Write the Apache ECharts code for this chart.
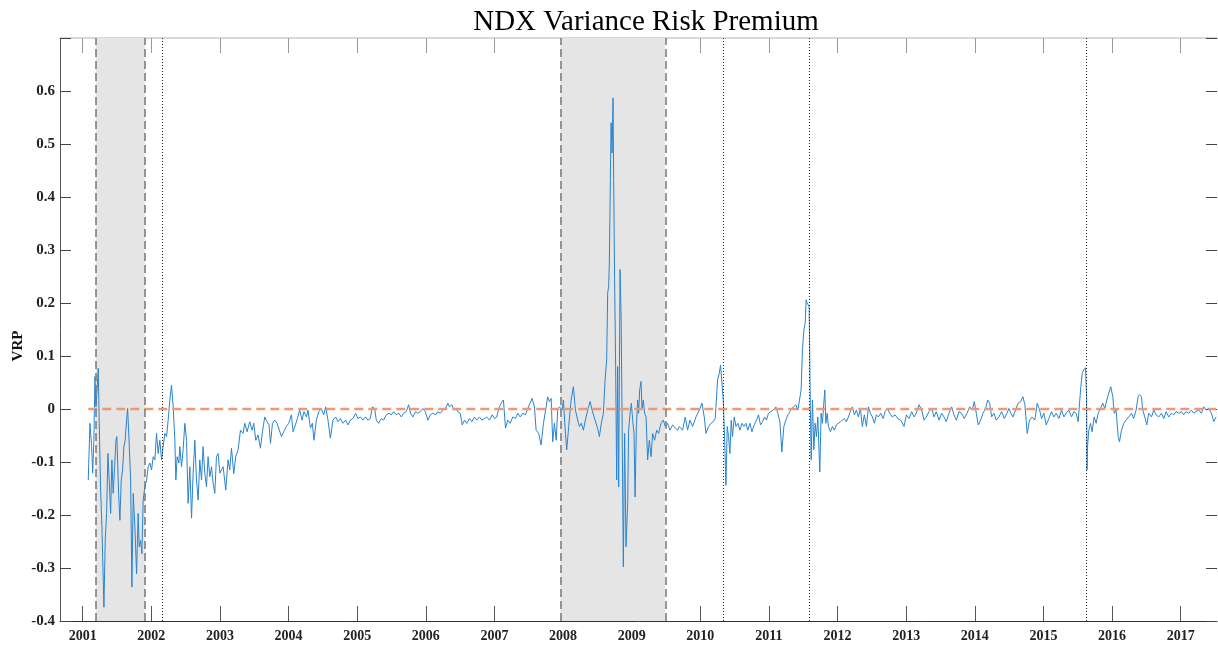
<!DOCTYPE html>
<html>
<head>
<meta charset="utf-8">
<title>NDX Variance Risk Premium</title>
<script src="https://cdn.jsdelivr.net/npm/echarts@6/dist/echarts.min.js"></script>
<style>
  html, body { margin: 0; padding: 0; background: #fff; }
  #chart { width: 1218px; height: 651px; }
</style>
</head>
<body>
<div id="chart"></div>
<script>
// VRP series (decimal year, value)
const vrpDates = [
  2001.082, 2001.106, 2001.131, 2001.146, 2001.164, 2001.179, 2001.194, 2001.213, 2001.227, 2001.242,
  2001.262, 2001.281, 2001.310, 2001.329, 2001.349, 2001.368, 2001.387, 2001.408, 2001.426, 2001.445,
  2001.466, 2001.485, 2001.499, 2001.524, 2001.543, 2001.562, 2001.582, 2001.601, 2001.620, 2001.640,
  2001.655, 2001.674, 2001.699, 2001.718, 2001.737, 2001.761, 2001.786, 2001.809, 2001.824, 2001.844,
  2001.863, 2001.882, 2001.907, 2001.932, 2001.955, 2001.980, 2002.004, 2002.028, 2002.052, 2002.077,
  2002.100, 2002.125, 2002.150, 2002.173, 2002.198, 2002.223, 2002.246, 2002.271, 2002.295, 2002.319,
  2002.344, 2002.358, 2002.377, 2002.402, 2002.416, 2002.441, 2002.464, 2002.489, 2002.514, 2002.537,
  2002.562, 2002.587, 2002.610, 2002.635, 2002.659, 2002.683, 2002.707, 2002.732, 2002.755, 2002.780,
  2002.805, 2002.828, 2002.853, 2002.878, 2002.901, 2002.926, 2002.950, 2002.974, 2002.999,
  2003.047, 2003.086, 2003.119, 2003.144, 2003.169, 2003.202, 2003.231, 2003.265, 2003.300, 2003.338,
  2003.362, 2003.396, 2003.435, 2003.469, 2003.493, 2003.523, 2003.556, 2003.591, 2003.620, 2003.654,
  2003.687, 2003.716, 2003.737, 2003.766, 2003.799, 2003.833, 2003.862, 2003.897, 2003.930, 2003.969,
  2004.003, 2004.042, 2004.066, 2004.100, 2004.130, 2004.163, 2004.197, 2004.226, 2004.261, 2004.284,
  2004.319, 2004.348, 2004.371, 2004.406, 2004.440, 2004.479, 2004.512, 2004.541, 2004.575, 2004.610,
  2004.648, 2004.687, 2004.721, 2004.755, 2004.793, 2004.833, 2004.866, 2004.901, 2004.939, 2004.978,
  2005.012, 2005.047, 2005.084, 2005.124, 2005.157, 2005.192, 2005.221, 2005.255, 2005.279, 2005.313,
  2005.352, 2005.386, 2005.425, 2005.463, 2005.498, 2005.531, 2005.571, 2005.608, 2005.643, 2005.677,
  2005.716, 2005.750, 2005.779, 2005.812, 2005.852, 2005.885, 2005.920, 2005.958, 2005.993,
  2006.031, 2006.066, 2006.103, 2006.143, 2006.176, 2006.211, 2006.249, 2006.288, 2006.322, 2006.346,
  2006.380, 2006.409, 2006.444, 2006.467, 2006.502, 2006.531, 2006.565, 2006.598, 2006.638, 2006.671,
  2006.710, 2006.744, 2006.783, 2006.817, 2006.856, 2006.889, 2006.929, 2006.968,
  2007.001, 2007.035, 2007.064, 2007.099, 2007.132, 2007.162, 2007.195, 2007.230, 2007.268, 2007.307,
  2007.341, 2007.376, 2007.413, 2007.453, 2007.486, 2007.521, 2007.550, 2007.584, 2007.608, 2007.646,
  2007.681, 2007.715, 2007.754, 2007.777, 2007.802, 2007.827, 2007.850, 2007.875, 2007.900, 2007.923,
  2007.948, 2007.987,
  2008.006, 2008.035, 2008.054, 2008.083, 2008.118, 2008.151, 2008.181, 2008.214, 2008.239, 2008.268,
  2008.297, 2008.326, 2008.360, 2008.394, 2008.424, 2008.453, 2008.482, 2008.511, 2008.530, 2008.559,
  2008.588, 2008.613, 2008.636, 2008.651, 2008.665, 2008.675, 2008.690, 2008.700, 2008.715, 2008.729,
  2008.738, 2008.752, 2008.767, 2008.782, 2008.796, 2008.811, 2008.831, 2008.846, 2008.860, 2008.879,
  2008.898, 2008.918, 2008.942, 2008.956, 2008.977, 2008.996,
  2009.015, 2009.035, 2009.050, 2009.069, 2009.088, 2009.102, 2009.117, 2009.137, 2009.151, 2009.170,
  2009.189, 2009.210, 2009.233, 2009.258, 2009.283, 2009.306, 2009.335, 2009.364, 2009.393, 2009.428,
  2009.461, 2009.491, 2009.524, 2009.559, 2009.597, 2009.636, 2009.670, 2009.695, 2009.742, 2009.782,
  2009.815, 2009.850, 2009.888, 2009.937, 2009.986,
  2010.025, 2010.058, 2010.083, 2010.121, 2010.156, 2010.189, 2010.218, 2010.252, 2010.277, 2010.296,
  2010.316, 2010.335, 2010.354, 2010.374, 2010.393, 2010.412, 2010.432, 2010.451, 2010.470, 2010.495,
  2010.520, 2010.549, 2010.578, 2010.607, 2010.636, 2010.665, 2010.694, 2010.723, 2010.753, 2010.786,
  2010.820, 2010.849, 2010.878, 2010.907, 2010.936, 2010.965, 2010.994,
  2011.029, 2011.063, 2011.102, 2011.131, 2011.160, 2011.189, 2011.218, 2011.247, 2011.277, 2011.306,
  2011.335, 2011.364, 2011.393, 2011.422, 2011.451, 2011.470, 2011.489, 2011.510, 2011.529, 2011.543,
  2011.558, 2011.572, 2011.587, 2011.601, 2011.616, 2011.635, 2011.655, 2011.674, 2011.693, 2011.713,
  2011.742, 2011.761, 2011.780, 2011.800, 2011.815, 2011.830, 2011.849, 2011.868, 2011.897, 2011.926,
  2011.955, 2011.984,
  2012.013, 2012.042, 2012.071, 2012.100, 2012.130, 2012.159, 2012.194, 2012.217, 2012.246, 2012.275,
  2012.304, 2012.333, 2012.362, 2012.391, 2012.421, 2012.450, 2012.479, 2012.508, 2012.537, 2012.566,
  2012.595, 2012.630, 2012.664, 2012.693, 2012.726, 2012.761, 2012.799, 2012.838, 2012.878, 2012.921,
  2012.969,
  2013.003, 2013.042, 2013.081, 2013.115, 2013.148, 2013.188, 2013.227, 2013.261, 2013.294, 2013.333,
  2013.373, 2013.406, 2013.440, 2013.479, 2013.518, 2013.552, 2013.585, 2013.625, 2013.664, 2013.697,
  2013.731, 2013.770, 2013.809, 2013.847, 2013.887, 2013.926, 2013.964, 2013.993,
  2014.022, 2014.051, 2014.086, 2014.119, 2014.159, 2014.188, 2014.217, 2014.246, 2014.280, 2014.313,
  2014.352, 2014.392, 2014.430, 2014.469, 2014.498, 2014.527, 2014.556, 2014.595, 2014.633, 2014.668,
  2014.702, 2014.731, 2014.764, 2014.799, 2014.837, 2014.876, 2014.910, 2014.945, 2014.974,
  2015.007, 2015.041, 2015.080, 2015.119, 2015.153, 2015.186, 2015.226, 2015.265, 2015.299, 2015.332,
  2015.371, 2015.410, 2015.444, 2015.478, 2015.507, 2015.527, 2015.546, 2015.565, 2015.590, 2015.614,
  2015.630, 2015.636, 2015.643, 2015.662, 2015.687, 2015.710, 2015.740, 2015.769, 2015.798, 2015.833,
  2015.866, 2015.895, 2015.924, 2015.953, 2015.982,
  2016.012, 2016.031, 2016.060, 2016.089, 2016.109, 2016.138, 2016.172, 2016.205, 2016.244, 2016.284,
  2016.317, 2016.351, 2016.380, 2016.400, 2016.429, 2016.448, 2016.478, 2016.507, 2016.536, 2016.575,
  2016.609, 2016.642, 2016.681, 2016.721, 2016.754, 2016.788, 2016.827, 2016.866, 2016.900, 2016.933,
  2016.972,
  2017.012, 2017.045, 2017.079, 2017.118, 2017.157, 2017.191, 2017.224, 2017.264, 2017.303, 2017.337,
  2017.370, 2017.409, 2017.449, 2017.482, 2017.516
]

const vrpValues = [
  -0.134, -0.027, -0.071, -0.121, -0.059, 0.061, 0.004, 0.042, 0.077, -0.027,
  -0.153, -0.222, -0.374, -0.248, -0.197, -0.084, -0.134, -0.197, -0.096, -0.159,
  -0.109, -0.059, -0.052, -0.159, -0.210, -0.134, -0.115, -0.071, -0.059, -0.021,
  0.001, -0.052, -0.134, -0.336, -0.159, -0.222, -0.311, -0.197, -0.260, -0.248,
  -0.273, -0.172, -0.147, -0.134, -0.109, -0.102, -0.115, -0.090, -0.096, -0.046,
  -0.084, -0.059, -0.096, -0.071, -0.046, -0.052, -0.021, 0.017, 0.045, 0.004,
  -0.059, -0.134, -0.090, -0.102, -0.071, -0.109, -0.077, -0.027, -0.059, -0.178,
  -0.109, -0.206, -0.121, -0.059, -0.134, -0.172, -0.096, -0.134, -0.071, -0.121,
  -0.147, -0.090, -0.128, -0.109, -0.140, -0.159, -0.090, -0.084, -0.121,
  -0.109, -0.153, -0.096, -0.115, -0.074, -0.122, -0.090, -0.077, -0.040, -0.046,
  -0.027, -0.043, -0.024, -0.040, -0.027, -0.059, -0.049, -0.074, -0.043, -0.015,
  -0.024, -0.030, -0.065, -0.027, -0.021, -0.027, -0.024, -0.052, -0.043, -0.033,
  -0.027, -0.011, -0.043, -0.030, -0.018, -0.002, -0.021, -0.005, -0.015, -0.002,
  -0.036, -0.027, -0.059, -0.021, -0.005, 0.001, -0.011, 0.004, -0.021, -0.055,
  -0.021, -0.015, -0.024, -0.018, -0.027, -0.021, -0.030, -0.021, -0.018, -0.008,
  -0.018, -0.015, -0.021, -0.015, -0.021, -0.018, 0.004, 0.001, -0.021, -0.027,
  -0.018, -0.021, -0.011, -0.008, -0.011, -0.005, -0.011, -0.008, -0.015, -0.008,
  -0.005, 0.008, -0.008, -0.015, -0.005, -0.008, -0.005, 0.001, -0.005,
  -0.021, -0.011, -0.008, -0.011, -0.005, -0.008, -0.002, 0.001, 0.011, 0.004,
  0.008, -0.002, 0.001, -0.005, -0.008, -0.030, -0.021, -0.027, -0.018, -0.024,
  -0.015, -0.021, -0.015, -0.021, -0.018, -0.015, -0.021, -0.011,
  -0.018, -0.015, 0.001, 0.011, 0.017, -0.036, -0.021, -0.027, -0.015, -0.018,
  -0.008, -0.015, -0.008, -0.011, 0.001, 0.011, 0.020, 0.004, -0.040, -0.046,
  -0.068, -0.027, 0.004, 0.023, 0.014, 0.020, -0.062, -0.027, -0.059, -0.002,
  0.004, -0.002,
  0.017, -0.046, -0.077, -0.033, 0.017, 0.042, -0.002, -0.021, -0.033, -0.027,
  -0.040, -0.021, -0.002, 0.014, -0.002, -0.015, -0.027, -0.040, -0.052, -0.027,
  -0.008, 0.055, 0.093, 0.219, 0.231, 0.275, 0.433, 0.540, 0.483, 0.587,
  0.433, 0.244, 0.080, -0.134, 0.080, -0.147, 0.263, 0.181, -0.008, -0.298,
  -0.046, -0.260, -0.178, -0.040, -0.008, 0.011,
  -0.021, -0.046, -0.166, -0.033, 0.017, -0.008, 0.036, 0.052, -0.002, 0.017,
  -0.008, -0.015, -0.096, -0.059, -0.090, -0.046, -0.059, -0.040, -0.046, -0.027,
  -0.021, -0.033, -0.027, -0.040, -0.030, -0.036, -0.040, -0.033, -0.040, -0.015,
  -0.040, -0.021, -0.033, -0.015, -0.002,
  0.011, -0.015, -0.046, -0.033, -0.027, -0.024, -0.018, 0.055, 0.067, 0.083,
  0.080, 0.017, -0.052, -0.144, -0.033, -0.052, -0.084, -0.021, -0.052, -0.015,
  -0.033, -0.027, -0.040, -0.027, -0.033, -0.027, -0.040, -0.027, -0.043, -0.030,
  -0.021, -0.011, -0.030, -0.024, -0.015, -0.021, -0.008,
  -0.005, -0.002, 0.004, -0.008, -0.024, -0.081, -0.033, -0.021, -0.011, -0.005,
  0.001, 0.004, 0.008, -0.002, -0.002, 0.036, 0.112, 0.149, 0.162, 0.206,
  0.200, 0.203, 0.193, 0.036, -0.096, 0.017, -0.077, -0.027, -0.052, -0.015,
  -0.119, -0.008, -0.027, 0.011, 0.036, -0.027, -0.008, -0.033, -0.043, -0.033,
  -0.040, -0.030,
  -0.033, -0.024, -0.027, -0.018, -0.024, -0.015, -0.002, 0.004, -0.011, -0.002,
  -0.015, 0.001, -0.033, -0.011, -0.033, 0.004, -0.008, -0.015, -0.027, -0.011,
  -0.015, -0.008, -0.018, -0.005, 0.001, -0.008, -0.015, -0.011, -0.018, -0.021,
  -0.033,
  -0.011, -0.018, -0.005, -0.015, -0.008, 0.008, -0.002, -0.021, -0.015, -0.005,
  0.001, -0.015, -0.005, -0.021, -0.008, -0.015, -0.024, -0.008, 0.004, -0.011,
  -0.021, -0.005, -0.008, -0.018, -0.008, 0.004, -0.002, 0.014,
  -0.008, -0.030, -0.021, -0.008, 0.001, 0.017, 0.011, -0.015, -0.008, -0.021,
  -0.015, -0.005, -0.018, -0.008, 0.001, -0.008, -0.015, -0.002, 0.011, 0.014,
  0.023, 0.008, -0.046, -0.021, -0.015, -0.021, 0.011, -0.002, -0.018,
  -0.008, -0.030, -0.018, -0.005, -0.015, -0.008, -0.018, -0.002, -0.015, -0.008,
  -0.002, -0.015, -0.005, -0.008, -0.024, 0.011, 0.042, 0.067, 0.074, 0.078,
  0.020, -0.115, -0.071, -0.040, -0.027, -0.043, -0.015, -0.027, -0.008, 0.001,
  0.011, 0.001, 0.017, 0.030, 0.042,
  0.023, -0.008, -0.002, -0.052, -0.062, -0.040, -0.027, -0.021, -0.015, -0.008,
  -0.018, -0.002, 0.023, 0.027, 0.023, -0.002, -0.015, -0.030, -0.008, -0.015,
  -0.002, -0.011, -0.015, -0.008, -0.018, -0.005, -0.015, -0.008, -0.011, -0.005,
  -0.008,
  -0.005, -0.011, -0.005, -0.008, -0.002, -0.008, -0.005, -0.002, -0.008, 0.004,
  -0.002, 0.001, -0.008, -0.024, -0.015
]

// recession bands (start, end) and event dates (dotted lines)
const recessions = [[2001.194, 2001.907], [2007.962, 2009.486]]
const eventDates = [2002.165, 2010.335, 2011.587, 2015.630]
const yearTicks = [2001, 2002, 2003, 2004, 2005, 2006, 2007, 2008, 2009, 2010, 2011, 2012, 2013, 2014, 2015, 2016, 2017]

const xMin = 2000.67
const xMax = 2017.53
const serif = 'Liberation Serif'

const chart = echarts.init(document.getElementById('chart'))

const vrpData = vrpDates.map((d, i) => [d, vrpValues[i]])
const zeroData = [[vrpDates[0], 0], [vrpDates[vrpDates.length - 1], 0]]

// tick marks are covered by the shading in the original
const tickYears = yearTicks.filter(y => !recessions.some(r => y > r[0] && y < r[1]))

const bandEdges = []
recessions.forEach(r => {
  bandEdges.push({ xAxis: r[0] })
  bandEdges.push({ xAxis: r[1] })
})

const option = {
  animation: false,
  backgroundColor: '#fff',
  title: {
    text: 'NDX Variance Risk Premium',
    left: 641,
    top: 3,
    textAlign: 'center',
    textStyle: { fontFamily: serif, fontSize: 29, fontWeight: 'normal', color: '#000' }
  },
  graphic: [
    {
      type: 'text',
      x: 18,
      y: 346,
      rotation: Math.PI / 2,
      style: {
        text: 'VRP',
        font: 'bold 15px "Liberation Serif"',
        fill: '#111',
        align: 'center',
        verticalAlign: 'middle'
      }
    }
  ],
  grid: { left: 60, right: 1, top: 38, bottom: 30 },
  xAxis: [
    {
      type: 'value',
      min: xMin,
      max: xMax,
      axisLine: { onZero: false, lineStyle: { color: '#333', width: 1 } },
      axisTick: { inside: true, length: 15, customValues: tickYears, lineStyle: { color: '#555' } },
      axisLabel: {
        customValues: yearTicks,
        formatter: v => String(Math.round(v)),
        margin: 8,
        fontFamily: serif,
        fontSize: 14,
        fontWeight: 'bold',
        color: '#222'
      },
      splitLine: { show: false }
    },
    {
      type: 'value',
      position: 'top',
      min: xMin,
      max: xMax,
      axisLine: { onZero: false, lineStyle: { color: '#ccc', width: 1.5 } },
      axisTick: { inside: true, length: 15, customValues: tickYears, lineStyle: { color: '#999' } },
      axisLabel: { show: false },
      splitLine: { show: false }
    }
  ],
  yAxis: [
    {
      type: 'value',
      min: -0.4,
      max: 0.7,
      interval: 0.1,
      axisLine: { show: true, onZero: false, lineStyle: { color: '#555' } },
      axisTick: { inside: true, length: 11, lineStyle: { color: '#444' } },
      axisLabel: {
        formatter: v => (v > 0.65 ? '' : String(Math.round(v * 10) / 10)),
        margin: 5,
        fontFamily: serif,
        fontSize: 15,
        fontWeight: 'bold',
        color: '#222'
      },
      splitLine: { show: false }
    },
    {
      type: 'value',
      position: 'right',
      min: -0.4,
      max: 0.7,
      interval: 0.1,
      axisLine: { show: false, onZero: false },
      axisTick: { inside: true, length: 11, lineStyle: { color: '#444' } },
      axisLabel: { show: false },
      splitLine: { show: false }
    }
  ],
  series: [
    {
      // host for shading and vertical reference lines
      type: 'line',
      data: zeroData,
      showSymbol: false,
      lineStyle: { opacity: 0 },
      silent: true,
      z: 1,
      markArea: {
        silent: true,
        itemStyle: { color: '#e5e5e5' },
        data: recessions.map(r => [{ xAxis: r[0] }, { xAxis: r[1] }])
      },
      markLine: {
        silent: true,
        symbol: ['none', 'none'],
        label: { show: false },
        data: bandEdges.map(e => ({ ...e, lineStyle: { color: '#777', type: [8, 4], width: 1.5 } }))
          .concat(eventDates.map(d => ({ xAxis: d, lineStyle: { color: '#222', type: [1, 2], width: 1 } })))
      }
    },
    {
      name: 'VRP',
      type: 'line',
      data: vrpData,
      showSymbol: false,
      lineStyle: { color: '#2a84cf', width: 1 },
      z: 3
    },
    {
      name: 'zero',
      type: 'line',
      data: zeroData,
      showSymbol: false,
      lineStyle: { color: '#ee9874', width: 2.5, type: [9, 5] },
      z: 4
    }
  ]
}

chart.setOption(option)
</script>
</body>
</html>
